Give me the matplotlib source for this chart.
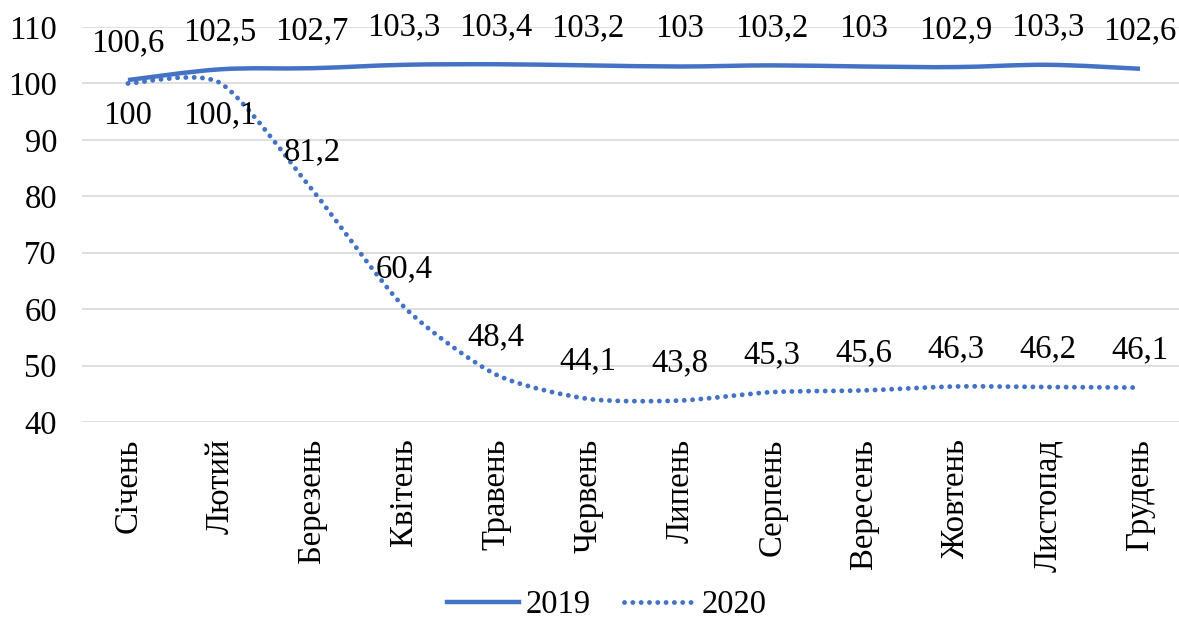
import numpy as np
import matplotlib
matplotlib.use('Agg')
import matplotlib.pyplot as plt
from matplotlib.path import Path
from matplotlib.patches import PathPatch
from matplotlib.lines import Line2D

plt.rcParams['font.family'] = ['Liberation Serif', 'DejaVu Serif']

# Data
months = ['Січень', 'Лютий', 'Березень', 'Квітень', 'Травень', 'Червень',
          'Липень', 'Серпень', 'Вересень', 'Жовтень', 'Листопад', 'Грудень']
y2019 = [100.6, 102.5, 102.7, 103.3, 103.4, 103.2, 103, 103.2, 103, 102.9, 103.3, 102.6]
y2020 = [100, 100.1, 81.2, 60.4, 48.4, 44.1, 43.8, 45.3, 45.6, 46.3, 46.2, 46.1]
labels2019 = ['100,6', '102,5', '102,7', '103,3', '103,4', '103,2', '103', '103,2', '103', '102,9', '103,3', '102,6']
labels2020 = ['100', '100,1', '81,2', '60,4', '48,4', '44,1', '43,8', '45,3', '45,6', '46,3', '46,2', '46,1']

blue = '#4472C4'
fs = 23.5


def smooth_path(xs, ys, t=1 / 6.0):
    # Excel-like smoothed line: Catmull-Rom segments drawn as cubic Beziers
    pts = np.column_stack([xs, ys]).astype(float)
    n = len(pts)
    verts = [pts[0]]
    codes = [Path.MOVETO]
    for i in range(n - 1):
        p0 = pts[i - 1] if i > 0 else pts[i]
        p1 = pts[i]
        p2 = pts[i + 1]
        p3 = pts[i + 2] if i + 2 < n else pts[i + 1]
        c1 = p1 + (p2 - p0) * t
        c2 = p2 - (p3 - p1) * t
        verts += [c1, c2, p2]
        codes += [Path.CURVE4] * 3
    return Path(verts, codes)


fig = plt.figure(figsize=(11.79, 6.25), dpi=100)
ax = fig.add_axes([82 / 1179, 1 - 422 / 625, (1186 - 82) / 1179, (422 - 27) / 625])

x = np.arange(len(months))

ax.add_patch(PathPatch(smooth_path(x, y2019), fill=False, edgecolor=blue,
                       linewidth=3.2, capstyle='butt', joinstyle='round', zorder=3))
ax.add_patch(PathPatch(smooth_path(x, y2020, 0.12), fill=False, edgecolor=blue,
                       linewidth=3.5, linestyle=(0, (0.01, 1.7)), capstyle='round', zorder=3))

for xi, yi, lab in zip(x, y2019, labels2019):
    ax.annotate(lab, (xi, yi), xytext=(0, 27), textcoords='offset points',
                ha='center', va='center', fontsize=fs, zorder=4)

for i, (xi, yi, lab) in enumerate(zip(x, y2020, labels2020)):
    off = -23 if i < 2 else 27
    ax.annotate(lab, (xi, yi), xytext=(0, off), textcoords='offset points',
                ha='center', va='center', fontsize=fs, zorder=4)

ax.set_xlim(-0.5, len(months) - 0.5)
ax.set_ylim(40, 110)
ax.set_yticks(range(40, 111, 10))
ax.set_xticks(x)
ax.set_xticklabels(months, rotation=90, fontsize=fs)
ax.tick_params(axis='y', labelsize=fs, length=0, pad=18)
ax.tick_params(axis='x', length=0, pad=12)

ax.grid(axis='y', color='#D9D9D9', linewidth=1.2)
ax.set_axisbelow(True)
for s in ax.spines.values():
    s.set_visible(False)

handles = [Line2D([], [], color=blue, linewidth=3.2),
           Line2D([], [], color=blue, linewidth=3.5, linestyle=(0, (0.01, 1.7)),
                  dash_capstyle='round')]
fig.legend(handles, ['2019', '2020'], loc='center', bbox_to_anchor=(0.515, 1 - 605 / 625),
           ncol=2, frameon=False, fontsize=fs, handlelength=2.2, handletextpad=0.2,
           columnspacing=1.0)

fig.savefig('out.png', dpi=100)
